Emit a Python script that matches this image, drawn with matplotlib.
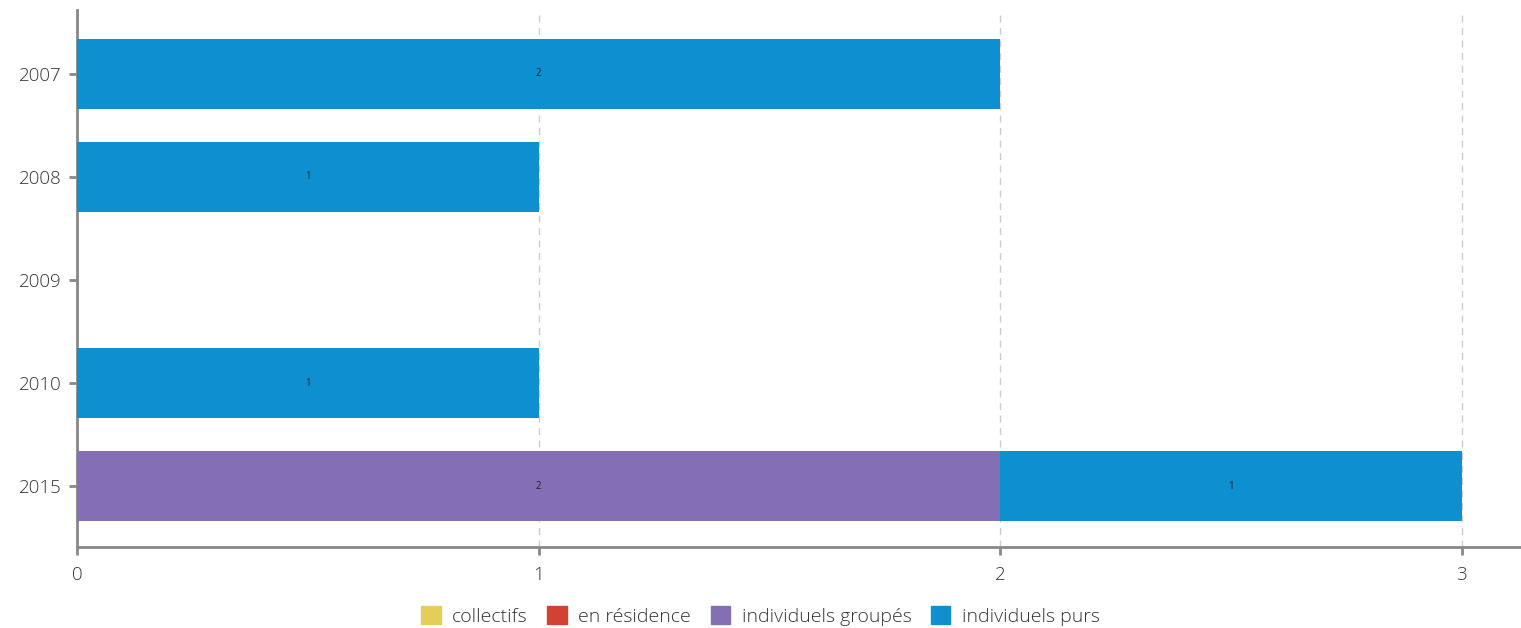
import matplotlib
matplotlib.use("Agg")
import matplotlib.pyplot as plt
import numpy as np

plt.rcParams['font.family'] = ['Open Sans', 'DejaVu Sans']

years = ["2007", "2008", "2009", "2010", "2015"]
series_names = ["collectifs", "en résidence", "individuels groupés", "individuels purs"]
collectifs = [0, 0, 0, 0, 0]
en_residence = [0, 0, 0, 0, 0]
individuels_groupes = [0, 0, 0, 0, 2]
individuels_purs = [2, 1, 0, 1, 1]
colors = ["#e3cf57", "#d04232", "#846fb5", "#0e8fd0"]
xticks = [0, 1, 2, 3]

fig = plt.figure(figsize=(15.21, 6.28), dpi=100)
ax = fig.add_axes([77/1521, 81/628, 1443/1521, 537/628])

y = np.arange(len(years))
left = np.zeros(len(years))
for name, vals, c in zip(series_names,
                         [collectifs, en_residence, individuels_groupes, individuels_purs],
                         colors):
    vals = np.array(vals, dtype=float)
    bars = ax.barh(y, vals, left=left, height=0.68, color=c, label=name, zorder=3)
    labels = [f"{int(v)}" if v > 0 else "" for v in vals]
    ax.bar_label(bars, labels=labels, label_type='center', fontsize=7, color='#222222')
    left += vals

ax.set_ylim(4.59, -0.62)
ax.set_xlim(0, 3.126)
ax.set_yticks(y)
ax.set_yticklabels(years)
ax.set_xticks(xticks)
ax.set_xticklabels([str(t) for t in xticks])
ax.tick_params(axis='both', colors='#888888', labelcolor='#333333', labelsize=13.5, width=2, length=6)
ax.tick_params(axis='x', pad=8)
ax.tick_params(axis='y', pad=5)
for lab in ax.get_xticklabels() + ax.get_yticklabels():
    lab.set_fontweight('light')

ax.grid(axis='x', linestyle=(0, (5, 4)), color='#cccccc', linewidth=1, zorder=0)
for s in ['top', 'right']:
    ax.spines[s].set_visible(False)
for s in ['left', 'bottom']:
    ax.spines[s].set_color('#888888')
    ax.spines[s].set_linewidth(2)

handles = [plt.Rectangle((0, 0), 1, 1, color=c) for c in colors]
leg = fig.legend(handles, series_names, loc='center', bbox_to_anchor=(0.5, 1 - 616/628),
           ncol=4, frameon=False, fontsize=14, handlelength=1.0, handleheight=1.0,
           handletextpad=0.6, columnspacing=1.0, labelcolor='#333333')
for t in leg.get_texts():
    t.set_fontweight('light')

fig.savefig("out.png", dpi=100)
